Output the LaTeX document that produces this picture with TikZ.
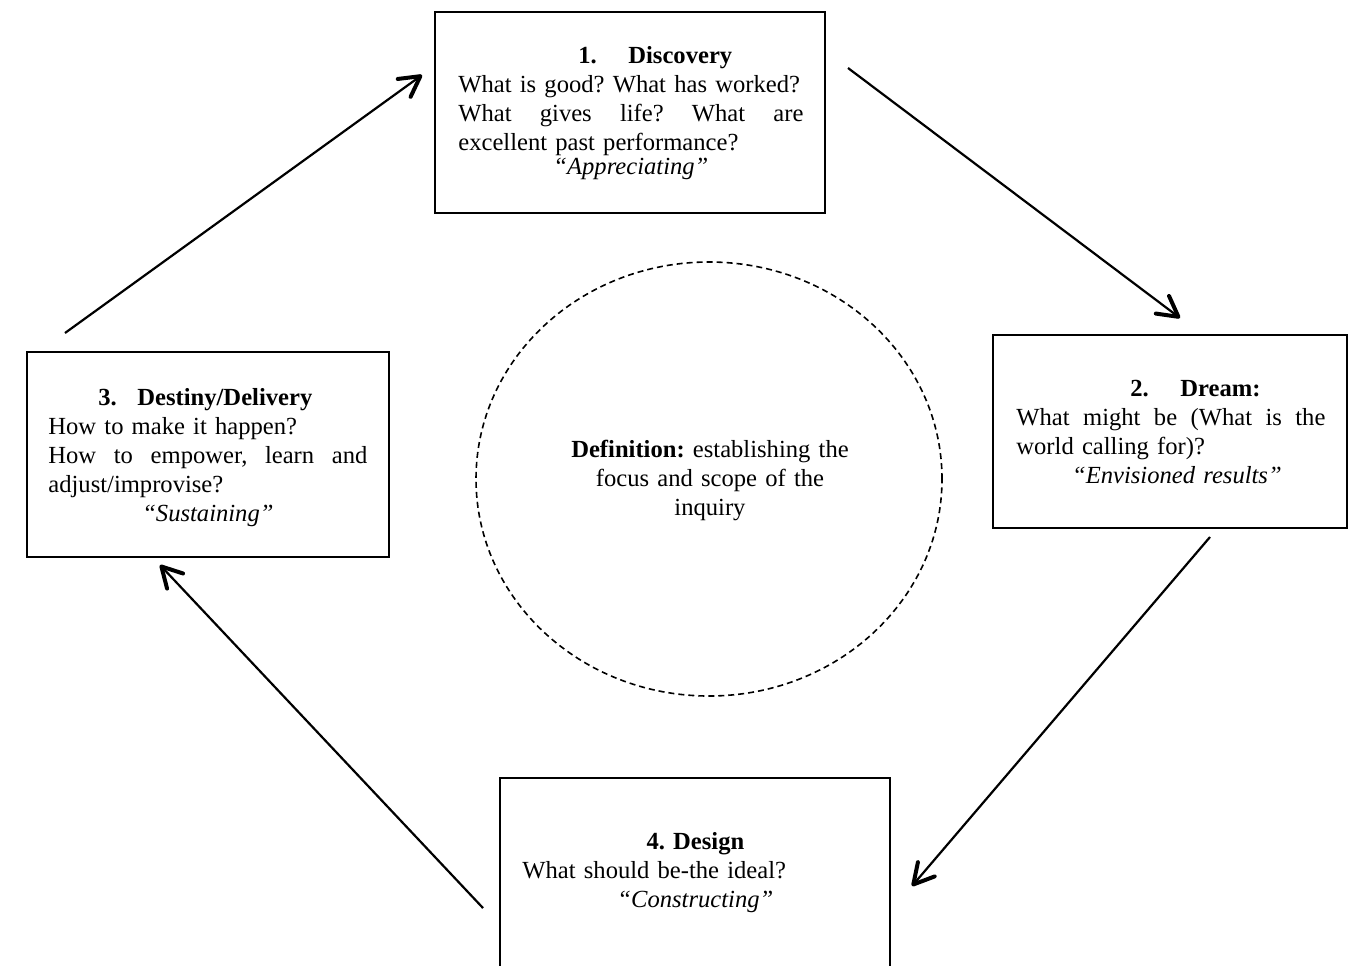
\documentclass[tikz,border=0pt]{standalone}
\usepackage{fontspec}
\setmainfont{Liberation Serif}
\usetikzlibrary{arrows.meta,shapes.geometric}
\frenchspacing
\tikzset{
  box/.style={draw, line width=1pt, rectangle, inner sep=0pt},
  boxtext/.style={anchor=base west, inner sep=0pt, align=left, text width=220pt,
    font=\fontsize{12.3}{14.5}\selectfont\frenchspacing},
  arr/.style={line width=1.1pt, -{Straight Barb[length=10pt,width=11pt,line width=2pt,round]}},
}
\begin{document}
\begin{tikzpicture}[x=0.5pt,y=-0.5pt]
\clip (0,0) rectangle (1358,965);
% boxes
\node[box, minimum width=195pt, minimum height=100.5pt] (b1) at (630,112.5) {};
\node[box, minimum width=177pt, minimum height=96.5pt] (b2) at (1170,431.5) {};
\node[box, minimum width=181pt, minimum height=102.5pt] (b3) at (208,454.5) {};
\node[box, minimum width=195pt, minimum height=103.5pt] (b4) at (695,881.5) {};
% central ellipse
\node[draw, ellipse, dashed, dash pattern=on 3pt off 2pt, line width=0.8pt,
  minimum width=233pt, minimum height=217pt, inner sep=0pt] (def) at (709,479) {};
% texts
\node[boxtext] (t1) at (458,63) {%
\hspace*{60pt}\makebox[25pt][l]{\textbf{1.}}\textbf{Discovery}\\
What is good? What has worked?\\
\makebox[172.5pt][s]{What\hfill gives\hfill life?\hfill What\hfill are}\\
excellent past performance?\\[-2.3pt]
\makebox[172.5pt][c]{\textit{``Appreciating''}}};
\node[boxtext] (t2) at (1016,396) {%
\hspace*{57pt}\makebox[25pt][l]{\textbf{2.}}\textbf{Dream:}\\
\makebox[154.5pt][s]{What\hfill might\hfill be\hfill (What\hfill is\hfill the}\\
world calling for)?\\
\makebox[154.5pt][c]{\hspace*{6pt}\textit{``Envisioned results''}}};
\node[boxtext] (t3) at (48,405) {%
\hspace*{25pt}\makebox[19.5pt][l]{\textbf{3.}}\textbf{Destiny/Delivery}\\
How to make it happen?\\
\makebox[159.5pt][s]{How\hfill to\hfill empower,\hfill learn\hfill and}\\
adjust/improvise?\\
\makebox[159.5pt][c]{\textit{``Sustaining''}}};
\node[boxtext] (t4) at (522,849) {%
\makebox[173pt][c]{\textbf{4. Design}}\\
What should be-the ideal?\\
\makebox[173pt][c]{\textit{``Constructing''}}};
\node[boxtext, anchor=base, text width=170pt, align=center] (t0) at (710,457) {%
\textbf{Definition:} establishing the\\
focus and scope of the\\
inquiry};
% arrow end points
\coordinate (a1s) at (65,333);  \coordinate (a1e) at (422,75);
\coordinate (a2s) at (848,68);  \coordinate (a2e) at (1180,318);
\coordinate (a3s) at (1210,537); \coordinate (a3e) at (912,886);
\coordinate (a4s) at (483,908);  \coordinate (a4e) at (160,565);
\draw[arr] (a1s) -- (a1e);
\draw[arr] (a2s) -- (a2e);
\draw[arr] (a3s) -- (a3e);
\draw[arr] (a4s) -- (a4e);
\end{tikzpicture}
\end{document}
